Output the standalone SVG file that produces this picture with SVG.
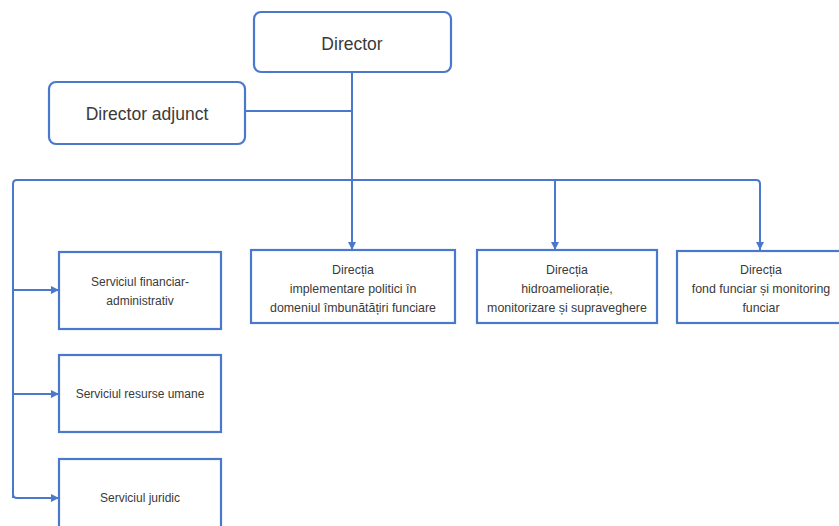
<svg xmlns="http://www.w3.org/2000/svg" width="839" height="526" viewBox="0 0 839 526">
<style>
.box{fill:#fff;stroke:#4a78cc;stroke-width:2.2}
.ln{fill:none;stroke:#4a78cc;stroke-width:2}
.t{font-family:"Liberation Sans",Arial,sans-serif;fill:#3a3a3a;text-anchor:middle}
.big{font-size:17.5px}
.sm{font-size:12px}
.md{font-size:12.4px}
</style>
<defs>
<marker id="ah" viewBox="0 0 10 10" refX="10" refY="5" markerWidth="8" markerHeight="8" markerUnits="userSpaceOnUse" orient="auto">
<path d="M0,0 L10,5 L0,10 z" fill="#4a78cc"/>
</marker>
</defs>
<rect width="839" height="526" fill="#fff"/>
<g id="connectors">
<path class="ln" d="M352,72 V250" marker-end="url(#ah)"/>
<path class="ln" d="M245,111 H352"/>
<path class="ln" d="M13,498 V184 Q13,180 17,180 H756 Q760,180 760,184 V250" marker-end="url(#ah)"/>
<path class="ln" d="M555,180 V250" marker-end="url(#ah)"/>
<path class="ln" d="M13,290 H59" marker-end="url(#ah)"/>
<path class="ln" d="M13,394 H59" marker-end="url(#ah)"/>
<path class="ln" d="M13,494 Q13,498 17,498 H59" marker-end="url(#ah)"/>
</g>
<g id="director">
<rect class="box" x="254" y="12" width="197" height="60" rx="7"/>
<text class="t big" x="352" y="50">Director</text>
</g>
<g id="director-adjunct">
<rect class="box" x="49" y="82" width="196" height="62" rx="7"/>
<text class="t big" x="147" y="120">Director adjunct</text>
</g>
<g id="directia-implementare">
<rect class="box" x="251" y="250" width="204" height="73"/>
<text class="t md" x="353" y="274">Direcția</text>
<text class="t md" x="353" y="293">implementare politici în</text>
<text class="t md" x="353" y="312">domeniul îmbunătățiri funciare</text>
</g>
<g id="directia-hidroamelioratie">
<rect class="box" x="477" y="250" width="180" height="73"/>
<text class="t md" x="567" y="274">Direcția</text>
<text class="t md" x="567" y="293">hidroameliorație,</text>
<text class="t md" x="567" y="312">monitorizare și supraveghere</text>
</g>
<g id="directia-fond-funciar">
<rect class="box" x="677" y="251" width="170" height="72"/>
<text class="t md" x="761" y="274">Direcția</text>
<text class="t md" x="761" y="293">fond funciar și monitoring</text>
<text class="t md" x="761" y="312">funciar</text>
</g>
<g id="serviciul-financiar">
<rect class="box" x="59" y="252" width="162" height="77"/>
<text class="t sm" x="140" y="286">Serviciul financiar-</text>
<text class="t sm" x="140" y="305">administrativ</text>
</g>
<g id="serviciul-resurse">
<rect class="box" x="59" y="355" width="162" height="77"/>
<text class="t sm" x="140" y="398">Serviciul resurse umane</text>
</g>
<g id="serviciul-juridic">
<rect class="box" x="59" y="459" width="162" height="80"/>
<text class="t sm" x="140" y="502">Serviciul juridic</text>
</g>
</svg>
